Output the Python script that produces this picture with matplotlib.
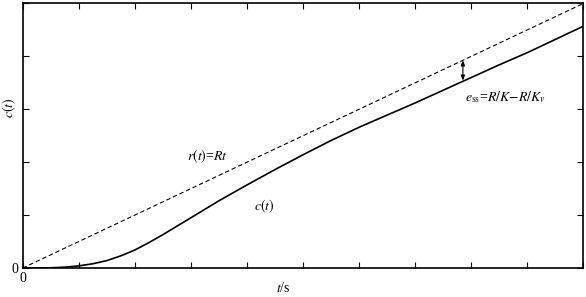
import matplotlib.pyplot as plt

plt.rcParams['font.family'] = ['Liberation Serif', 'DejaVu Serif']
plt.rcParams['mathtext.fontset'] = 'stix'

# values
t = [0, 0.25, 0.5, 0.75, 1.0, 1.25, 1.5, 1.75, 2.0, 2.25, 2.5, 2.75, 3.0, 3.25, 3.5, 3.75, 4.0,
     4.5, 5.0, 5.5, 6.0, 6.5, 7.0, 7.5, 8.0, 8.5, 9.0, 9.5, 10.0]
c = [0, 0.0, 0.004, 0.016, 0.04, 0.08, 0.14, 0.23, 0.34, 0.48, 0.63, 0.79, 0.95, 1.11, 1.27, 1.42, 1.57,
     1.86, 2.14, 2.41, 2.66, 2.89, 3.12, 3.36, 3.60, 3.84, 4.07, 4.32, 4.57]
r_t = [0, 10]
r_val = [0, 5]

x_ticks = [0, 1, 2, 3, 4, 5, 6, 7, 8, 9, 10]
x_ticklabels = ['0', '', '', '', '', '', '', '', '', '', '']
y_ticks = [0, 1, 2, 3, 4, 5]
y_ticklabels = ['0', '', '', '', '', '']

arrow_t = 7.85
arrow_top = 3.925
arrow_bottom = 3.54

fig = plt.figure(figsize=(5.86, 2.97), dpi=100)
ax = fig.add_axes([0.0387, 0.0976, 0.957, 0.891])

ax.plot(r_t, r_val, color='black', lw=0.8, dashes=(4, 2.5))
ax.plot(t, c, color='black', lw=1.2)

ax.annotate('', xy=(arrow_t, arrow_top), xytext=(arrow_t, arrow_bottom),
            arrowprops=dict(arrowstyle='<|-|>,head_length=0.3,head_width=0.12',
                            color='black', lw=0.8, shrinkA=0, shrinkB=0))

ax.text(3.29, 2.11, r'$r(t)$=$Rt$', fontsize=10, ha='center', va='center')
ax.text(4.30, 1.17, r'$c(t)$', fontsize=10, ha='center', va='center')
ax.text(7.88, 3.23, r'$e_{\rm ss}$=$R/K$$-$$R/K_v$', fontsize=10, ha='left', va='center')

ax.set_xlim(0, 10)
ax.set_ylim(0, 5)
ax.set_xticks(x_ticks)
ax.set_xticklabels(x_ticklabels)
ax.set_yticks(y_ticks)
ax.set_yticklabels(y_ticklabels)
ax.tick_params(direction='in', length=4, width=0.8, top=True, right=True,
               labelsize=10, pad=3)
for s in ax.spines.values():
    s.set_linewidth(1.2)

# axis titles placed by pixel position in the figure
fig.text(9 / 586, 1 - 108 / 297, r'$c(t)$', fontsize=10, rotation=90,
         ha='center', va='center')
fig.text(283 / 586, 1 - 288 / 297, r'$t$/s', fontsize=10, ha='center', va='center')

fig.savefig('out.png', dpi=100)
